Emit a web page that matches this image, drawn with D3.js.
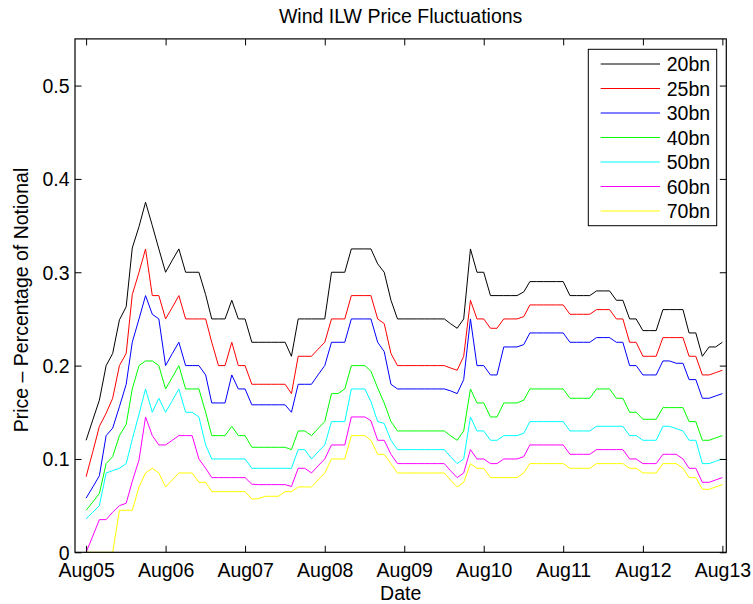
<!DOCTYPE html>
<html><head><meta charset="utf-8">
<script src="https://cdn.jsdelivr.net/npm/d3@7"></script>
<style>
body{margin:0;background:#fff}
svg{display:block}
text{font-family:"Liberation Sans",Arial,Helvetica,sans-serif;fill:#000}
</style>
</head><body>
<svg id="chart" width="753" height="604"></svg>
<script>
// ---------- data ----------
const seriesNames  = ["20bn","25bn","30bn","40bn","50bn","60bn","70bn"];
const seriesColors = ["#000000","#ff0000","#0000ff","#00ff00","#00ffff","#ff00ff","#ffff00"];
const xTickLabels  = ["Aug05","Aug06","Aug07","Aug08","Aug09","Aug10","Aug11","Aug12","Aug13"];
const yTickValues  = [0,0.1,0.2,0.3,0.4,0.5];
const yTickLabels  = ["0","0.1","0.2","0.3","0.4","0.5"];
const titleText = "Wind ILW Price Fluctuations";
const xLabelText = "Date";
const yLabelText = "Price \u2013 Percentage of Notional";

// monthly values, Aug 2005 .. Aug 2013
const s20 = [0.120,0.142,0.163,0.200,0.213,0.249,0.263,0.326,0.349,0.375,0.350,0.325,
             0.300,0.313,0.325,0.300,0.300,0.300,0.276,0.250,0.250,0.250,0.270,0.250,
             0.250,0.225,0.225,0.225,0.225,0.225,0.225,0.210,0.250,0.250,0.250,0.250,
             0.250,0.300,0.300,0.300,0.325,0.325,0.325,0.325,0.309,0.300,0.270,0.250,
             0.250,0.250,0.250,0.250,0.250,0.250,0.250,0.245,0.240,0.250,0.325,0.300,
             0.300,0.275,0.275,0.275,0.275,0.275,0.279,0.290,0.290,0.290,0.290,0.290,
             0.290,0.275,0.275,0.275,0.275,0.280,0.280,0.280,0.270,0.270,0.250,0.250,
             0.2375,0.2375,0.2375,0.260,0.260,0.260,0.260,0.235,0.235,0.210,0.220,0.220,
             0.225];
const s25 = [0.081,0.108,0.135,0.149,0.165,0.200,0.213,0.276,0.300,0.325,0.275,0.275,
             0.250,0.2625,0.275,0.250,0.250,0.250,0.250,0.225,0.200,0.200,0.225,0.200,
             0.200,0.180,0.180,0.180,0.180,0.180,0.180,0.170,0.210,0.210,0.210,0.2175,
             0.225,0.250,0.250,0.250,0.275,0.275,0.275,0.275,0.250,0.245,0.213,0.200,
             0.200,0.200,0.200,0.200,0.200,0.200,0.200,0.1975,0.195,0.210,0.270,0.250,
             0.250,0.240,0.240,0.250,0.250,0.250,0.2525,0.265,0.265,0.265,0.265,0.265,
             0.265,0.255,0.255,0.255,0.255,0.260,0.260,0.260,0.250,0.250,0.225,0.225,
             0.210,0.210,0.210,0.230,0.230,0.230,0.230,0.210,0.210,0.190,0.190,0.1925,
             0.195];
const s30 = [0.058,0.070,0.082,0.125,0.133,0.156,0.180,0.225,0.250,0.275,0.255,0.250,
             0.200,0.213,0.225,0.200,0.200,0.200,0.190,0.160,0.160,0.160,0.190,0.175,
             0.175,0.158,0.158,0.158,0.158,0.158,0.158,0.150,0.180,0.180,0.180,0.190,
             0.200,0.225,0.225,0.225,0.250,0.250,0.250,0.250,0.225,0.215,0.180,0.175,
             0.175,0.175,0.175,0.175,0.175,0.175,0.175,0.173,0.170,0.185,0.250,0.200,
             0.200,0.190,0.190,0.220,0.220,0.220,0.2225,0.235,0.235,0.235,0.235,0.235,
             0.235,0.225,0.225,0.225,0.225,0.230,0.230,0.230,0.225,0.225,0.200,0.200,
             0.190,0.190,0.190,0.205,0.205,0.2025,0.2025,0.185,0.185,0.165,0.165,0.1675,
             0.170];
const s40 = [0.045,0.054,0.063,0.095,0.1025,0.125,0.137,0.175,0.200,0.205,0.205,0.200,
             0.175,0.1875,0.200,0.175,0.175,0.175,0.150,0.125,0.125,0.125,0.135,0.125,
             0.125,0.1125,0.1125,0.1125,0.1125,0.1125,0.1125,0.110,0.130,0.130,0.125,0.1325,
             0.140,0.170,0.170,0.175,0.200,0.200,0.200,0.194,0.176,0.160,0.140,0.130,
             0.130,0.130,0.130,0.130,0.130,0.130,0.130,0.125,0.120,0.130,0.175,0.160,
             0.160,0.145,0.145,0.160,0.160,0.160,0.163,0.175,0.175,0.175,0.175,0.175,
             0.175,0.165,0.165,0.165,0.165,0.175,0.175,0.175,0.165,0.165,0.150,0.150,
             0.1425,0.1425,0.1425,0.155,0.155,0.155,0.155,0.140,0.140,0.120,0.120,0.1225,
             0.125];
const s50 = [0.036,0.043,0.050,0.085,0.0875,0.090,0.095,0.121,0.148,0.175,0.150,0.165,
             0.150,0.1625,0.175,0.150,0.150,0.145,0.115,0.100,0.100,0.100,0.100,0.100,
             0.100,0.090,0.090,0.090,0.090,0.090,0.090,0.090,0.110,0.110,0.100,0.1075,
             0.115,0.140,0.140,0.140,0.175,0.175,0.175,0.1615,0.140,0.138,0.120,0.110,
             0.110,0.110,0.110,0.110,0.110,0.110,0.110,0.1025,0.095,0.100,0.145,0.130,
             0.130,0.120,0.120,0.125,0.125,0.125,0.1275,0.140,0.140,0.140,0.140,0.140,
             0.140,0.130,0.130,0.130,0.130,0.135,0.135,0.135,0.135,0.135,0.125,0.125,
             0.120,0.120,0.120,0.135,0.135,0.1325,0.130,0.120,0.120,0.095,0.095,0.0975,
             0.100];
const s60 = [0.000,0.0175,0.035,0.035,0.043,0.050,0.0525,0.076,0.099,0.145,0.125,0.115,
             0.115,0.120,0.125,0.125,0.125,0.100,0.090,0.080,0.080,0.080,0.080,0.080,
             0.080,0.073,0.0725,0.0725,0.0725,0.0725,0.0725,0.0705,0.090,0.090,0.085,0.0925,
             0.100,0.115,0.115,0.115,0.145,0.145,0.145,0.141,0.120,0.120,0.105,0.095,
             0.095,0.095,0.095,0.095,0.095,0.095,0.095,0.0875,0.080,0.085,0.110,0.100,
             0.100,0.095,0.095,0.100,0.100,0.100,0.1025,0.115,0.115,0.115,0.115,0.115,
             0.115,0.105,0.105,0.105,0.105,0.110,0.110,0.110,0.110,0.110,0.100,0.100,
             0.095,0.095,0.095,0.105,0.105,0.105,0.100,0.090,0.090,0.075,0.075,0.0775,
             0.080];
const s70 = [0.000,0.000,0.000,0.000,0.000,0.045,0.045,0.045,0.070,0.085,0.090,0.085,
             0.070,0.0775,0.085,0.085,0.085,0.075,0.075,0.065,0.065,0.065,0.065,0.065,
             0.065,0.057,0.0575,0.060,0.060,0.060,0.065,0.065,0.070,0.070,0.070,0.0775,
             0.085,0.100,0.100,0.100,0.125,0.125,0.125,0.120,0.105,0.105,0.095,0.085,
             0.085,0.085,0.085,0.085,0.085,0.085,0.085,0.0775,0.070,0.075,0.095,0.090,
             0.090,0.080,0.080,0.080,0.080,0.080,0.085,0.095,0.095,0.095,0.095,0.095,
             0.095,0.090,0.090,0.090,0.090,0.095,0.095,0.095,0.095,0.095,0.090,0.090,
             0.085,0.085,0.085,0.095,0.095,0.095,0.090,0.080,0.080,0.0675,0.0675,0.070,
             0.0725];
const seriesValues = [s20,s25,s30,s40,s50,s60,s70];

// ---------- layout ----------
const W = 753, H = 604;
const plot = {left:75, right:726.3, top:38.9, bottom:552.3};
const fontSize = 19.5;
const tickLen = 6.5;

const dates = d3.utcMonth.range(new Date(Date.UTC(2005,7,1)), new Date(Date.UTC(2013,8,1)));
const xTickDates = dates.filter(d => d.getUTCMonth() === 7);

const x = d3.scaleUtc()
  .domain([new Date(Date.UTC(2005,5,11)), new Date(Date.UTC(2013,7,19))])
  .range([plot.left, plot.right]);
const y = d3.scaleLinear().domain([0,0.55]).range([plot.bottom, plot.top]);

const svg = d3.select("#chart");
svg.append("rect").attr("width",W).attr("height",H).attr("fill","#fff");

// ---------- lines ----------
const line = d3.line().x((d,i)=>x(dates[i])).y(d=>y(d));
const gLines = svg.append("g");
seriesValues.forEach((vals,k)=>{
  gLines.append("path").datum(vals)
    .attr("d", line)
    .attr("fill","none")
    .attr("stroke", seriesColors[k])
    .attr("stroke-width",1)
    .attr("stroke-linejoin","miter");
});

// ---------- axes ----------
const axStroke = 1.2;
const gAx = svg.append("g");
const xb = gAx.append("g").attr("transform",`translate(0,${plot.bottom})`)
  .call(d3.axisBottom(x).tickValues(xTickDates).tickSizeInner(-tickLen).tickSizeOuter(0)
        .tickFormat((d,i)=>xTickLabels[i]));
const xt = gAx.append("g").attr("transform",`translate(0,${plot.top})`)
  .call(d3.axisTop(x).tickValues(xTickDates).tickSizeInner(-tickLen).tickSizeOuter(0).tickFormat(""));
const yl = gAx.append("g").attr("transform",`translate(${plot.left},0)`)
  .call(d3.axisLeft(y).tickValues(yTickValues).tickSizeInner(-tickLen).tickSizeOuter(0)
        .tickFormat((d,i)=>yTickLabels[i]));
const yr = gAx.append("g").attr("transform",`translate(${plot.right},0)`)
  .call(d3.axisRight(y).tickValues(yTickValues).tickSizeInner(-tickLen).tickSizeOuter(0).tickFormat(""));

[xb,xt,yl,yr].forEach(g=>{
  g.select(".domain").remove();
  g.selectAll(".tick line").attr("stroke","#000").attr("stroke-width",1);
  g.selectAll("text").attr("font-size",fontSize).attr("font-family",'"Liberation Sans",Arial,sans-serif').attr("fill","#000");
});
xb.selectAll(".tick text").attr("dy",null).attr("y",24.5);
yl.selectAll(".tick text").attr("dy","0.35em").attr("x",-5.5);

gAx.append("rect")
  .attr("x",plot.left).attr("y",plot.top)
  .attr("width",plot.right-plot.left).attr("height",plot.bottom-plot.top)
  .attr("fill","none").attr("stroke","#000").attr("stroke-width",axStroke);

// ---------- titles ----------
const cx = (plot.left+plot.right)/2;
svg.append("text").attr("x",cx).attr("y",22.7).attr("text-anchor","middle")
  .attr("font-size",fontSize).text(titleText);
svg.append("text").attr("x",cx).attr("y",599.5).attr("text-anchor","middle")
  .attr("font-size",fontSize).text(xLabelText);
svg.append("text").attr("transform",`translate(28,300) rotate(-90)`).attr("text-anchor","middle")
  .attr("font-size",fontSize).text(yLabelText);

// ---------- legend ----------
const lg = {x:588.3, y:49.3, w:128.4, h:176.4, row0:64, rowH:24.5, l0:600.7, l1:660, tx:666.7};
const gLeg = svg.append("g");
gLeg.append("rect").attr("x",lg.x).attr("y",lg.y).attr("width",lg.w).attr("height",lg.h)
  .attr("fill","#fff").attr("stroke","#000").attr("stroke-width",1);
seriesNames.forEach((n,k)=>{
  const ry = lg.row0 + k*lg.rowH;
  gLeg.append("line").attr("x1",lg.l0).attr("x2",lg.l1).attr("y1",ry).attr("y2",ry)
    .attr("stroke",seriesColors[k]).attr("stroke-width",1);
  gLeg.append("text").attr("x",lg.tx).attr("y",ry).attr("dy","0.36em")
    .attr("font-size",fontSize).text(n);
});
</script>
</body></html>
